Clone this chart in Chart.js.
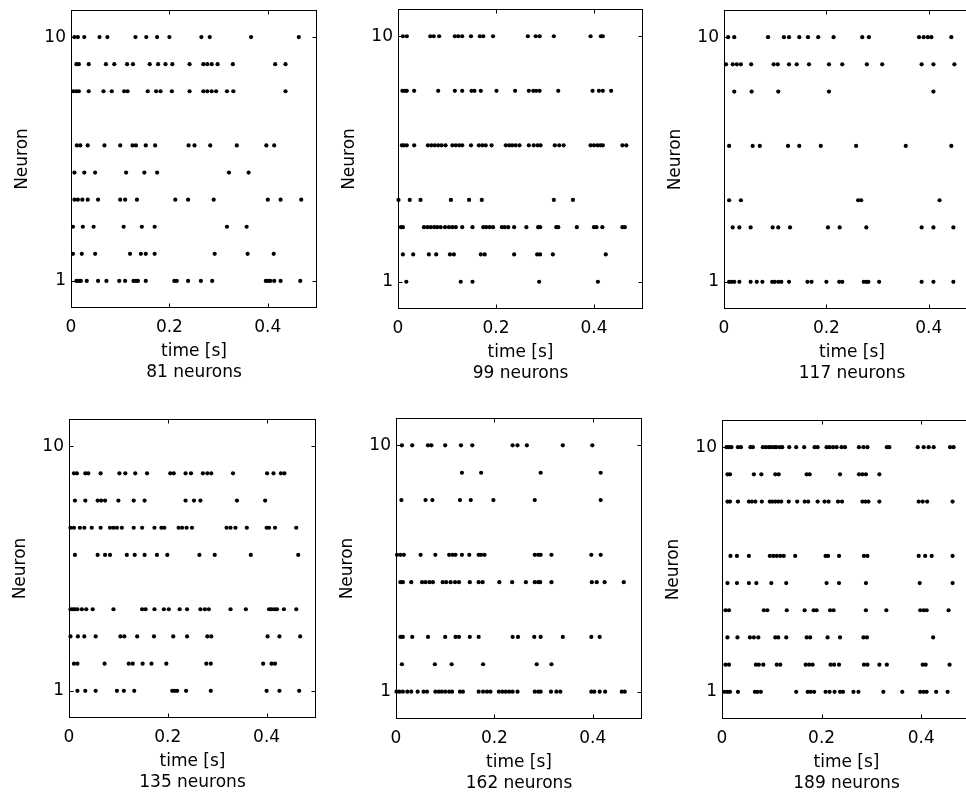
<!DOCTYPE html>
<html><head><meta charset="utf-8">
<script src="https://cdn.jsdelivr.net/npm/chart.js@4"></script>
<style>
html,body{margin:0;padding:0;background:#fff;overflow:hidden;width:966px;height:796px;position:relative}
canvas{position:absolute}
</style></head>
<body>
<script>
// ---------- data ----------
const xTicks = [0, 0.2, 0.4];
const yTicks = [1, 10];
const panelLabels = ["81 neurons", "99 neurons", "117 neurons", "135 neurons", "162 neurons", "189 neurons"];

// 81 neurons
const neurons81 = [10, 9, 8, 6, 5, 4, 3, 2, 1];
const spikes81 = [
  [0.007, 0.014, 0.027, 0.058, 0.074, 0.131, 0.153, 0.175, 0.200, 0.265, 0.282, 0.366, 0.463],
  [0.011, 0.016, 0.036, 0.071, 0.088, 0.114, 0.126, 0.160, 0.177, 0.192, 0.206, 0.241, 0.269, 0.277, 0.286, 0.298, 0.329, 0.415, 0.436],
  [0.005, 0.011, 0.016, 0.036, 0.066, 0.083, 0.108, 0.115, 0.156, 0.173, 0.182, 0.205, 0.241, 0.269, 0.277, 0.286, 0.295, 0.317, 0.330, 0.436],
  [0.012, 0.019, 0.034, 0.068, 0.100, 0.125, 0.132, 0.152, 0.171, 0.239, 0.251, 0.283, 0.337, 0.397, 0.413],
  [0.007, 0.027, 0.049, 0.112, 0.149, 0.175, 0.321, 0.361],
  [0.007, 0.014, 0.023, 0.034, 0.055, 0.100, 0.110, 0.134, 0.212, 0.238, 0.290, 0.400, 0.426, 0.468],
  [0.004, 0.024, 0.046, 0.107, 0.144, 0.170, 0.317, 0.357],
  [0.004, 0.022, 0.049, 0.120, 0.142, 0.152, 0.170, 0.292, 0.359, 0.412],
  [0.011, 0.016, 0.020, 0.032, 0.055, 0.072, 0.098, 0.110, 0.127, 0.132, 0.136, 0.152, 0.210, 0.215, 0.238, 0.264, 0.287, 0.396, 0.400, 0.405, 0.413, 0.426, 0.466]
];

// 99 neurons
const neurons99 = [10, 8, 6, 4, 3, 2, 1];
const spikes99 = [
  [0.010, 0.018, 0.066, 0.073, 0.084, 0.116, 0.123, 0.131, 0.149, 0.167, 0.174, 0.194, 0.265, 0.281, 0.289, 0.318, 0.393, 0.414, 0.418],
  [0.009, 0.014, 0.018, 0.033, 0.082, 0.116, 0.131, 0.150, 0.156, 0.169, 0.201, 0.239, 0.267, 0.276, 0.282, 0.289, 0.327, 0.397, 0.410, 0.418, 0.435],
  [0.008, 0.012, 0.018, 0.033, 0.061, 0.068, 0.075, 0.082, 0.089, 0.097, 0.111, 0.118, 0.125, 0.131, 0.149, 0.165, 0.172, 0.179, 0.191, 0.220, 0.227, 0.233, 0.240, 0.248, 0.267, 0.277, 0.285, 0.291, 0.320, 0.329, 0.338, 0.393, 0.400, 0.407, 0.413, 0.418, 0.458, 0.466],
  [0.001, 0.024, 0.046, 0.108, 0.145, 0.171, 0.318, 0.357],
  [0.006, 0.010, 0.053, 0.060, 0.067, 0.074, 0.080, 0.087, 0.096, 0.104, 0.111, 0.118, 0.131, 0.152, 0.174, 0.180, 0.187, 0.194, 0.212, 0.218, 0.225, 0.237, 0.262, 0.286, 0.290, 0.323, 0.327, 0.365, 0.400, 0.405, 0.417, 0.458, 0.463],
  [0.010, 0.031, 0.063, 0.078, 0.106, 0.114, 0.169, 0.177, 0.237, 0.284, 0.290, 0.316, 0.424],
  [0.017, 0.128, 0.152, 0.288, 0.408]
];

// 117 neurons
const neurons117 = [10, 9, 8, 6, 4, 3, 1];
const spikes117 = [
  [0.008, 0.020, 0.086, 0.117, 0.127, 0.147, 0.164, 0.184, 0.214, 0.270, 0.283, 0.381, 0.390, 0.398, 0.405, 0.444],
  [0.004, 0.017, 0.025, 0.033, 0.053, 0.097, 0.105, 0.127, 0.142, 0.166, 0.205, 0.231, 0.279, 0.309, 0.386, 0.409, 0.450],
  [0.020, 0.054, 0.106, 0.205, 0.409],
  [0.010, 0.056, 0.070, 0.125, 0.147, 0.189, 0.258, 0.355, 0.444],
  [0.010, 0.033, 0.262, 0.268, 0.421],
  [0.017, 0.030, 0.052, 0.095, 0.106, 0.129, 0.203, 0.226, 0.278, 0.386, 0.409, 0.448],
  [0.010, 0.015, 0.020, 0.030, 0.052, 0.064, 0.075, 0.094, 0.099, 0.106, 0.112, 0.127, 0.163, 0.171, 0.200, 0.225, 0.231, 0.273, 0.278, 0.282, 0.303, 0.386, 0.409, 0.448]
];

// 135 neurons
const neurons135 = [9, 8, 7, 6, 4, 3, 2, 1];
const spikes135 = [
  [0.010, 0.016, 0.033, 0.039, 0.064, 0.102, 0.114, 0.134, 0.158, 0.205, 0.212, 0.236, 0.247, 0.271, 0.280, 0.288, 0.332, 0.401, 0.414, 0.429, 0.436],
  [0.012, 0.033, 0.058, 0.065, 0.073, 0.100, 0.131, 0.153, 0.236, 0.253, 0.266, 0.340, 0.397],
  [0.003, 0.010, 0.022, 0.031, 0.046, 0.064, 0.083, 0.090, 0.097, 0.107, 0.131, 0.148, 0.173, 0.187, 0.193, 0.222, 0.229, 0.238, 0.249, 0.319, 0.327, 0.337, 0.360, 0.400, 0.405, 0.417, 0.460],
  [0.012, 0.058, 0.073, 0.083, 0.117, 0.133, 0.153, 0.178, 0.199, 0.264, 0.295, 0.368, 0.464],
  [0.003, 0.008, 0.012, 0.017, 0.026, 0.035, 0.048, 0.090, 0.148, 0.155, 0.173, 0.192, 0.202, 0.224, 0.239, 0.266, 0.275, 0.283, 0.327, 0.358, 0.405, 0.410, 0.416, 0.421, 0.435, 0.460],
  [0.003, 0.018, 0.031, 0.054, 0.104, 0.112, 0.138, 0.172, 0.211, 0.239, 0.280, 0.288, 0.402, 0.426, 0.468],
  [0.010, 0.017, 0.072, 0.121, 0.129, 0.149, 0.167, 0.197, 0.278, 0.287, 0.393, 0.410, 0.417],
  [0.017, 0.033, 0.054, 0.097, 0.111, 0.132, 0.209, 0.214, 0.219, 0.237, 0.287, 0.400, 0.426, 0.466]
];

// 162 neurons
const neurons162 = [10, 9, 8, 6, 5, 3, 2, 1];
const spikes162 = [
  [0.012, 0.033, 0.065, 0.072, 0.100, 0.132, 0.155, 0.237, 0.247, 0.266, 0.339, 0.399],
  [0.134, 0.173, 0.294, 0.416],
  [0.011, 0.060, 0.074, 0.130, 0.152, 0.198, 0.282, 0.416],
  [0.002, 0.009, 0.016, 0.050, 0.080, 0.108, 0.115, 0.121, 0.134, 0.149, 0.168, 0.173, 0.180, 0.282, 0.289, 0.294, 0.316, 0.397, 0.416],
  [0.009, 0.014, 0.031, 0.053, 0.060, 0.068, 0.075, 0.095, 0.102, 0.111, 0.120, 0.128, 0.150, 0.168, 0.176, 0.210, 0.236, 0.264, 0.282, 0.289, 0.293, 0.316, 0.398, 0.408, 0.424, 0.463],
  [0.009, 0.014, 0.033, 0.065, 0.100, 0.121, 0.128, 0.150, 0.168, 0.237, 0.248, 0.281, 0.294, 0.339, 0.397, 0.414],
  [0.012, 0.079, 0.113, 0.177, 0.286, 0.316],
  [0.001, 0.007, 0.014, 0.023, 0.031, 0.044, 0.056, 0.063, 0.080, 0.087, 0.093, 0.100, 0.108, 0.114, 0.130, 0.136, 0.168, 0.177, 0.185, 0.192, 0.209, 0.216, 0.223, 0.230, 0.237, 0.247, 0.282, 0.289, 0.294, 0.315, 0.326, 0.334, 0.397, 0.403, 0.414, 0.425, 0.459, 0.465]
];

// 189 neurons
const neurons189 = [10, 9, 8, 6, 5, 4, 3, 2, 1];
const spikes189 = [
  [0.009, 0.014, 0.019, 0.032, 0.038, 0.057, 0.062, 0.082, 0.088, 0.094, 0.099, 0.105, 0.109, 0.116, 0.121, 0.135, 0.149, 0.165, 0.186, 0.192, 0.210, 0.216, 0.223, 0.230, 0.240, 0.247, 0.275, 0.284, 0.292, 0.331, 0.336, 0.393, 0.405, 0.415, 0.425, 0.458, 0.465],
  [0.011, 0.016, 0.064, 0.079, 0.107, 0.114, 0.170, 0.176, 0.237, 0.275, 0.282, 0.289, 0.316],
  [0.011, 0.016, 0.032, 0.054, 0.060, 0.067, 0.080, 0.096, 0.101, 0.107, 0.113, 0.119, 0.134, 0.151, 0.166, 0.173, 0.192, 0.206, 0.214, 0.233, 0.241, 0.282, 0.288, 0.294, 0.316, 0.395, 0.403, 0.412, 0.463],
  [0.017, 0.030, 0.054, 0.096, 0.103, 0.110, 0.117, 0.124, 0.147, 0.208, 0.213, 0.235, 0.285, 0.292, 0.395, 0.408, 0.421, 0.463],
  [0.011, 0.030, 0.054, 0.069, 0.099, 0.129, 0.210, 0.235, 0.289, 0.397, 0.463],
  [0.007, 0.014, 0.084, 0.091, 0.130, 0.166, 0.184, 0.190, 0.217, 0.224, 0.289, 0.330, 0.398, 0.405, 0.411, 0.455],
  [0.011, 0.031, 0.056, 0.064, 0.073, 0.107, 0.113, 0.129, 0.170, 0.177, 0.212, 0.237, 0.284, 0.291, 0.424],
  [0.007, 0.014, 0.068, 0.074, 0.083, 0.110, 0.117, 0.168, 0.175, 0.182, 0.218, 0.225, 0.235, 0.285, 0.292, 0.316, 0.331, 0.403, 0.409, 0.457],
  [0.005, 0.011, 0.016, 0.032, 0.066, 0.071, 0.078, 0.149, 0.172, 0.178, 0.185, 0.208, 0.216, 0.226, 0.237, 0.243, 0.264, 0.274, 0.324, 0.362, 0.398, 0.405, 0.411, 0.430, 0.453]
];

// ---------- layout (plot-box edges in page pixels) ----------
const boxes = [
  {L: 71, R: 317, T: 10, B: 308},
  {L: 398, R: 643, T: 9, B: 309},
  {L: 724, R: 980, T: 10, B: 309},
  {L: 69, R: 316, T: 419, B: 718},
  {L: 396, R: 642, T: 418, B: 719},
  {L: 722, R: 971, T: 420, B: 719}
];
const panels = [
  [neurons81, spikes81], [neurons99, spikes99], [neurons117, spikes117],
  [neurons135, spikes135], [neurons162, spikes162], [neurons189, spikes189]
];

Chart.defaults.font.family = "'DejaVu Sans', sans-serif";
Chart.defaults.color = '#000';

const boxPlugin = {
  id: 'matlabBox',
  afterDatasetsDraw(chart) {
    const {ctx, chartArea: a, scales: {x, y}} = chart;
    ctx.save();
    ctx.strokeStyle = '#000';
    ctx.lineWidth = 1;
    const l = Math.round(a.left) + 0.5, r = Math.round(a.right) - 0.5;
    const t = Math.round(a.top) + 0.5, b = Math.round(a.bottom) - 0.5;
    ctx.strokeRect(l, t, r - l, b - t);
    ctx.beginPath();
    xTicks.forEach(v => {
      const px = Math.round(x.getPixelForValue(v)) + 0.5;
      ctx.moveTo(px, b); ctx.lineTo(px, b - 4);
      ctx.moveTo(px, t); ctx.lineTo(px, t + 4);
    });
    yTicks.forEach(v => {
      const py = Math.round(y.getPixelForValue(v)) + 0.5;
      ctx.moveTo(l, py); ctx.lineTo(l + 4, py);
      ctx.moveTo(r, py); ctx.lineTo(r - 4, py);
    });
    ctx.stroke();
    ctx.restore();
  }
};

const PADT = 20, PADR = 20, YW = 70, XH = 80;

panels.forEach(([neurons, spikes], i) => {
  const g = boxes[i];
  const c = document.createElement('canvas');
  const w = g.R - g.L + YW + PADR, h = g.B - g.T + PADT + XH;
  c.width = w; c.height = h;
  c.style.width = w + 'px'; c.style.height = h + 'px';
  c.style.left = (g.L - YW) + 'px'; c.style.top = (g.T - PADT) + 'px';
  document.body.appendChild(c);
  const pts = [];
  neurons.forEach((n, k) => spikes[k].forEach(t => pts.push({x: t, y: n})));
  new Chart(c, {
    type: 'scatter',
    data: {datasets: [{data: pts, pointRadius: 2.1, pointHoverRadius: 2.1,
      pointBackgroundColor: '#000', pointBorderWidth: 0, clip: 4}]},
    options: {
      responsive: false, animation: false, devicePixelRatio: 1, events: [],
      layout: {padding: {left: 0, top: PADT, right: PADR, bottom: 0}},
      plugins: {legend: {display: false}, tooltip: {enabled: false}},
      scales: {
        x: {
          type: 'linear', min: 0, max: 0.5,
          afterBuildTicks: s => { s.ticks = xTicks.map(v => ({value: v})); },
          afterFit: s => { s.height = XH; },
          grid: {display: false, drawTicks: false}, border: {display: false},
          ticks: {padding: 9, color: '#000', font: {size: 17}, maxRotation: 0,
            callback: v => String(v)},
          title: {display: true, text: ['time [s]', panelLabels[i]], color: '#000',
            font: {size: 17, lineHeight: 1.235}, padding: {top: 0, bottom: 4.5}}
        },
        y: {
          type: 'linear', min: 0, max: 11,
          afterBuildTicks: s => { s.ticks = yTicks.map(v => ({value: v})); },
          afterFit: s => { s.width = YW; },
          grid: {display: false, drawTicks: false}, border: {display: false},
          ticks: {padding: 5, color: '#000', font: {size: 17}, callback: v => String(v)},
          title: {display: true, text: 'Neuron', color: '#000',
            font: {size: 17}, padding: {top: 11, bottom: 0}}
        }
      }
    },
    plugins: [boxPlugin]
  });
});
</script>
</body></html>
